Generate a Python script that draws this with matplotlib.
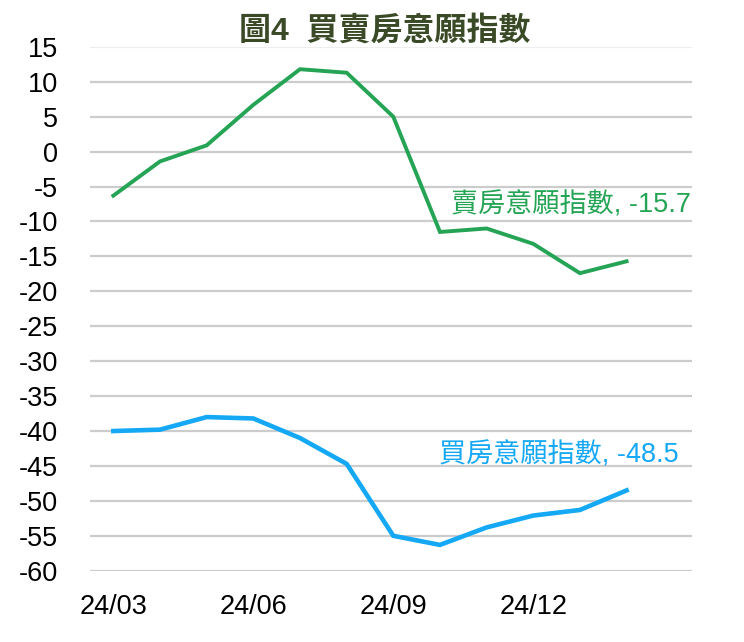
import matplotlib
matplotlib.use('Agg')
import matplotlib.pyplot as plt

plt.rcParams['font.family'] = ['Liberation Sans', 'Noto Sans CJK TC', 'DejaVu Sans']
plt.rcParams['axes.unicode_minus'] = False

months = ['24/03', '24/04', '24/05', '24/06', '24/07', '24/08',
          '24/09', '24/10', '24/11', '24/12', '25/01', '25/02']
sell_index = [-6.3, -1.4, 0.9, 6.7, 11.8, 11.3, 5.0, -11.5, -11.0, -13.2, -17.4, -15.7]
buy_index = [-40.0, -39.8, -38.0, -38.2, -41.0, -44.7, -55.0, -56.3, -53.8, -52.1, -51.3, -48.5]
sell_name = '賣房意願指數'
buy_name = '買房意願指數'
title = '圖4  買賣房意願指數'
yticks = list(range(-60, 16, 5))

green = '#25a455'
blue = '#14a8f5'

fig = plt.figure(figsize=(7.44, 6.42), dpi=100)
ax = fig.add_axes([0.121, 0.111, 0.809, 0.816])

x = list(range(len(months)))
ax.plot(x, sell_index, color=green, lw=2.8, solid_joinstyle='miter')
ax.plot(x, buy_index, color=blue, lw=3.3, solid_joinstyle='miter')

ax.set_ylim(-60, 15)
ax.set_xlim(-0.5, 12.4)
ax.set_yticks(yticks)
ax.set_xticks(x[::3])
ax.set_xticklabels(months[::3])
ax.tick_params(axis='both', length=0, labelsize=19.5, colors='black')
ax.tick_params(axis='y', pad=23)
ax.tick_params(axis='x', pad=17)
ax.yaxis.grid(True, color='#cccccc', lw=1.6)
ax.get_ygridlines()[-1].set_color('#eeeeee')
ax.set_axisbelow(True)
for s in ax.spines.values():
    s.set_visible(False)

ax.annotate(f'{sell_name}, {sell_index[-1]}', xy=(x[-1], sell_index[-1]),
            xytext=(691 / 744, 1 - 205 / 642), textcoords='figure fraction',
            ha='right', va='center', color=green, fontsize=19.5)
ax.annotate(f'{buy_name}, {buy_index[-1]}', xy=(x[-1], buy_index[-1]),
            xytext=(679 / 744, 1 - 455 / 642), textcoords='figure fraction',
            ha='right', va='center', color=blue, fontsize=19.5)

fig.text(385 / 744, 1 - 31 / 642, title, ha='center', va='center',
         fontsize=23, fontweight='bold', color='#3b4a26')

fig.savefig('out.png', dpi=100, facecolor='white')
